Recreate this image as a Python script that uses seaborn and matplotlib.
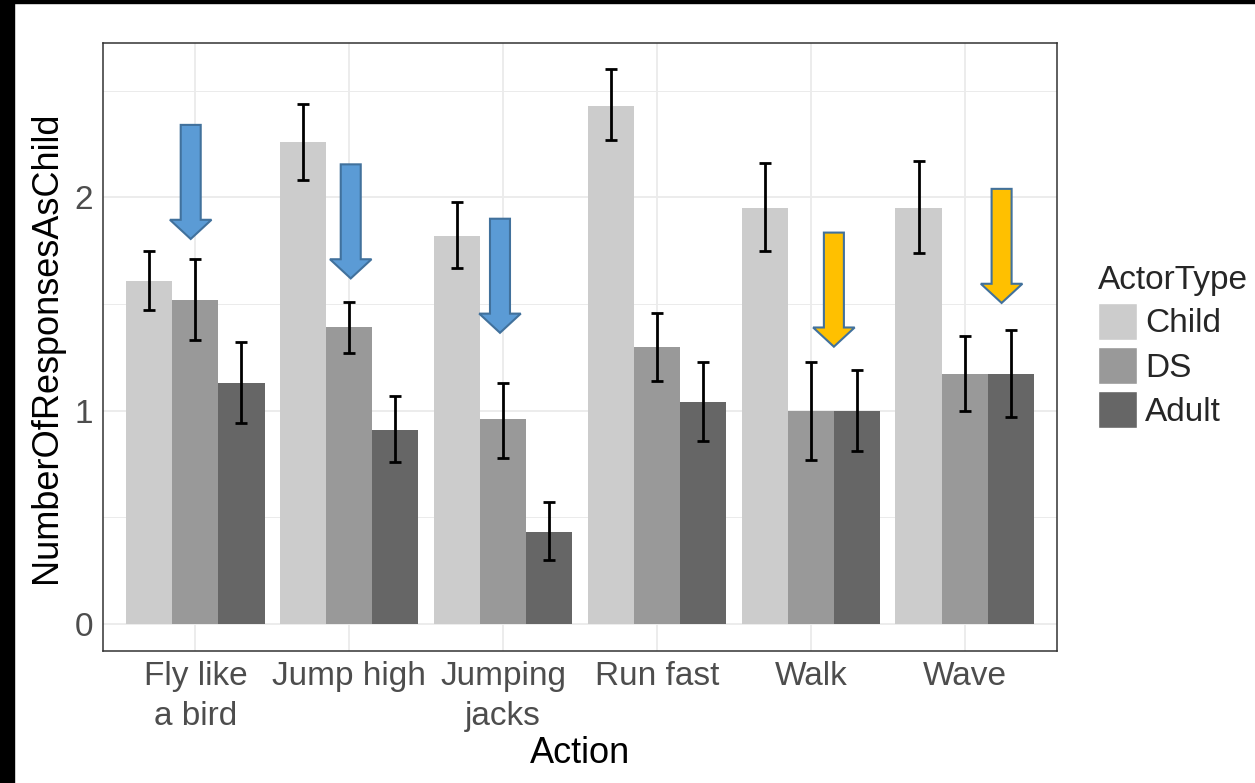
import numpy as np
import pandas as pd
import matplotlib
matplotlib.use("Agg")
import matplotlib.pyplot as plt
from matplotlib.patches import FancyArrow, Rectangle, Patch
import seaborn as sns

# ---- data -------------------------------------------------------------
actions = ["Fly like\na bird", "Jump high", "Jumping\njacks", "Run fast", "Walk", "Wave"]
actor_types = ["Child", "DS", "Adult"]

child_mean = [1.61, 2.26, 1.82, 2.43, 1.95, 1.95]
ds_mean = [1.52, 1.39, 0.96, 1.30, 1.00, 1.17]
adult_mean = [1.13, 0.91, 0.43, 1.04, 1.00, 1.17]

child_lo = [1.47, 2.08, 1.67, 2.27, 1.75, 1.74]
child_hi = [1.75, 2.44, 1.98, 2.60, 2.16, 2.17]
ds_lo = [1.33, 1.27, 0.78, 1.14, 0.77, 1.00]
ds_hi = [1.71, 1.51, 1.13, 1.46, 1.23, 1.35]
adult_lo = [0.94, 0.76, 0.30, 0.86, 0.81, 0.97]
adult_hi = [1.32, 1.07, 0.57, 1.23, 1.19, 1.38]

# highlight arrows: category position, top of arrow (y units), fill colour
arrow_x = [-0.03, 1.01, 1.98, 4.15, 5.24]
arrow_top = [2.34, 2.155, 1.90, 1.835, 2.04]
arrow_fill = ["#5B9BD5", "#5B9BD5", "#5B9BD5", "#FFC000", "#FFC000"]

bar_colors = {"Child": "#CCCCCC", "DS": "#999999", "Adult": "#666666"}

means = {"Child": child_mean, "DS": ds_mean, "Adult": adult_mean}
lows = {"Child": child_lo, "DS": ds_lo, "Adult": adult_lo}
highs = {"Child": child_hi, "DS": ds_hi, "Adult": adult_hi}

df = pd.DataFrame(
    [(a, t, means[t][i]) for t in actor_types for i, a in enumerate(actions)],
    columns=["Action", "ActorType", "NumberOfResponsesAsChild"],
)

# ---- figure -------------------------------------------------------------
sns.set_style("white")
plt.rcParams["font.family"] = ["Liberation Sans", "DejaVu Sans"]

W, H = 1255, 783
fig = plt.figure(figsize=(W / 100, H / 100), dpi=100)
fig.patch.set_facecolor("white")
# dark frame strips along the left and top edges
fig.add_artist(Rectangle((0, 0), 14 / W, 1, transform=fig.transFigure,
                         color="black", zorder=10))
fig.add_artist(Rectangle((0, 1 - 3 / H), 1, 3 / H, transform=fig.transFigure,
                         color="black", zorder=10))

ax = fig.add_axes([103 / W, 1 - 651 / H, 954 / W, 608 / H])

sns.barplot(
    data=df, x="Action", y="NumberOfResponsesAsChild", hue="ActorType",
    order=actions, hue_order=actor_types, palette=bar_colors,
    width=0.9, errorbar=None, linewidth=0, saturation=1, legend=False, ax=ax,
)

# error bars centred on each drawn bar
for cont, t in zip(ax.containers, actor_types):
    xs = np.array([b.get_x() + b.get_width() / 2 for b in cont])
    hs = np.array([b.get_height() for b in cont])
    lo = np.array(lows[t])
    hi = np.array(highs[t])
    ax.errorbar(xs, hs, yerr=[hs - lo, hi - hs], fmt="none", ecolor="black",
                elinewidth=2.0, capsize=4.6, capthick=2.0, zorder=3)

# arrows
shaft_w, head_w, head_len, arrow_len = 0.13, 0.27, 0.09, 0.535
for x, top, fc in zip(arrow_x, arrow_top, arrow_fill):
    ax.add_patch(FancyArrow(x, top, 0, -arrow_len, width=shaft_w,
                            head_width=head_w, head_length=head_len,
                            length_includes_head=True, facecolor=fc,
                            edgecolor="#41719C", linewidth=1.5, zorder=4))

# axes styling
ax.set_xlim(-0.6, 5.6)
ax.set_ylim(-0.127, 2.724)
ax.set_yticks([0, 1, 2])
ax.set_yticks([0.5, 1.5, 2.5], minor=True)
ax.set_axisbelow(True)
ax.grid(True, which="major", color="#EBEBEB", linewidth=1.3)
ax.grid(True, which="minor", axis="y", color="#EBEBEB", linewidth=0.7)
for s in ax.spines.values():
    s.set_color("#333333")
    s.set_linewidth(1.1)
ax.tick_params(axis="both", which="major", length=4, width=1.1, color="#333333",
               labelcolor="#4D4D4D", labelsize=24, pad=3)
ax.tick_params(axis="y", which="minor", length=0)
for lbl in ax.get_xticklabels():
    lbl.set_linespacing(1.38)

ax.set_xlabel("Action", fontsize=26, color="black", labelpad=3)
ax.set_ylabel("NumberOfResponsesAsChild", fontsize=26, color="black", labelpad=8)

handles = [Patch(facecolor=bar_colors[t], edgecolor="white", linewidth=1.0)
           for t in actor_types]
fig.legend(handles, actor_types, title="ActorType", loc="upper left",
           bbox_to_anchor=(1098 / W, 1 - 265 / H), frameon=False,
           fontsize=24, title_fontsize=24, handlelength=1.17, handleheight=1.35,
           labelspacing=0.2, handletextpad=0.25, borderpad=0, borderaxespad=0,
           alignment="left")

fig.savefig("out.png", dpi=100)
